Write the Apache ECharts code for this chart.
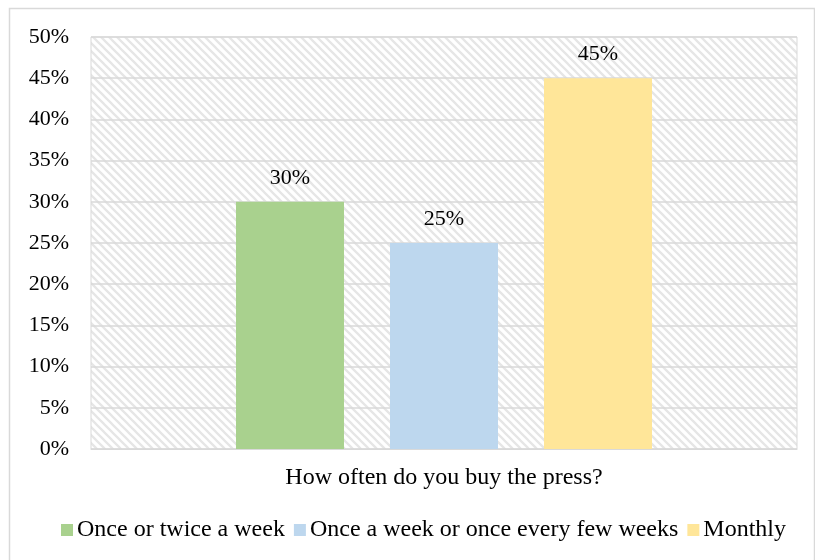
<!DOCTYPE html>
<html>
<head>
<meta charset="utf-8">
<script src="https://cdn.jsdelivr.net/npm/echarts@6/dist/echarts.min.js"></script>
<style>html,body{margin:0;padding:0;background:#fff;}#c{width:815px;height:560px;}</style>
</head>
<body>
<div id="c"></div>
<script>
var categories = ['How often do you buy the press?'];
var seriesNames = ['Once or twice a week', 'Once a week or once every few weeks', 'Monthly'];
var seriesValues = [[30], [25], [45]];
var seriesColors = ['#a9d18e', '#bdd7ee', '#ffe699'];
var yTicks = [0, 5, 10, 15, 20, 25, 30, 35, 40, 45, 50];

function makePattern() {
  var n = 8;
  var c = document.createElement('canvas');
  c.width = n; c.height = n;
  var ctx = c.getContext('2d');
  ctx.fillStyle = '#ffffff';
  ctx.fillRect(0, 0, n, n);
  ctx.strokeStyle = '#e6e6e6';
  ctx.lineWidth = 2.3;
  ctx.beginPath();
  ctx.moveTo(-n, -n); ctx.lineTo(2 * n, 2 * n);
  ctx.moveTo(-n, 0); ctx.lineTo(n, 2 * n);
  ctx.moveTo(0, -n); ctx.lineTo(2 * n, n);
  ctx.stroke();
  return c;
}

var font = '"Liberation Serif", "Times New Roman", serif';
var chart = echarts.init(document.getElementById('c'), null, {renderer: 'canvas'});
var series = seriesNames.map(function (name, i) {
  return {
    name: name,
    type: 'bar',
    data: seriesValues[i],
    barWidth: 108,
    barGap: '42.6%',
    itemStyle: {color: seriesColors[i]},
    label: {
      show: true, position: 'top', distance: 13,
      formatter: '{c}%', color: '#000', fontFamily: font, fontSize: 22
    }
  };
});
chart.setOption({
  animation: false,
  backgroundColor: '#fff',
  textStyle: {fontFamily: font},
  graphic: [{
    type: 'rect', silent: true, z: -10,
    shape: {x: 9.5, y: 8.5, width: 805, height: 560},
    style: {fill: 'none', stroke: '#d9d9d9', lineWidth: 1.5}
  }],
  grid: {
    left: 91, right: 18, top: 37, bottom: 111,
    show: true,
    backgroundColor: {image: makePattern(), repeat: 'repeat'},
    borderColor: '#d9d9d9', borderWidth: 1
  },
  legend: {
    bottom: 13, left: 56,
    itemWidth: 12, itemHeight: 12, itemGap: 9,
    icon: 'rect',
    textStyle: {fontFamily: font, fontSize: 24, color: '#000', padding: [0, 0, 0, -1]},
    data: seriesNames
  },
  xAxis: {
    type: 'category',
    data: categories,
    axisLine: {show: true, lineStyle: {color: '#d9d9d9'}},
    axisTick: {show: false},
    axisLabel: {color: '#000', fontFamily: font, fontSize: 24, margin: 17}
  },
  yAxis: {
    type: 'value', min: yTicks[0], max: yTicks[yTicks.length - 1], interval: 5,
    axisLine: {show: false}, axisTick: {show: false},
    axisLabel: {color: '#000', fontFamily: font, fontSize: 22, margin: 22, formatter: '{value}%'},
    splitLine: {show: true, lineStyle: {color: '#d9d9d9', width: 1.5}}
  },
  series: series
});
</script>
</body>
</html>
